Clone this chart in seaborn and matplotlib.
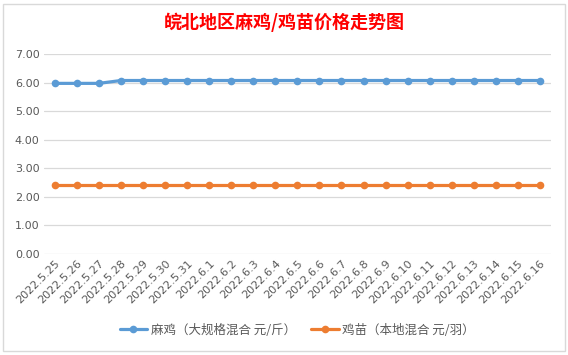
import matplotlib
matplotlib.use("Agg")
import matplotlib.pyplot as plt
import seaborn as sns
import pandas as pd

# data
dates = ["2022.5.25", "2022.5.26", "2022.5.27", "2022.5.28", "2022.5.29", "2022.5.30",
         "2022.5.31", "2022.6.1", "2022.6.2", "2022.6.3", "2022.6.4", "2022.6.5",
         "2022.6.6", "2022.6.7", "2022.6.8", "2022.6.9", "2022.6.10", "2022.6.11",
         "2022.6.12", "2022.6.13", "2022.6.14", "2022.6.15", "2022.6.16"]
maji = [5.97, 5.97, 5.97] + [6.07] * 20
jimiao = [2.40] * 23
series_names = ["麻鸡（大规格混合 元/斤）", "鸡苗（本地混合 元/羽）"]
colors = ["#5B9BD5", "#ED7D31"]

df = pd.DataFrame({
    "date": dates * 2,
    "price": maji + jimiao,
    "series": [series_names[0]] * len(dates) + [series_names[1]] * len(dates),
})
df["pos"] = list(range(len(dates))) * 2

sns.set_style("white")
plt.rcParams["font.family"] = ["Noto Sans CJK SC", "DejaVu Sans"]

fig = plt.figure(figsize=(5.68, 3.55), dpi=100)
ax = fig.add_axes([0.077, 0.285, 0.893, 0.563])

sns.lineplot(data=df, x="pos", y="price", hue="series", palette=colors,
             marker="o", markersize=5.5, markeredgewidth=0, linewidth=2.3,
             sort=False, ax=ax)

ax.set_ylim(0, 7)
ax.set_yticks([0, 1, 2, 3, 4, 5, 6, 7])
ax.set_yticklabels([f"{v:.2f}" for v in range(8)], fontsize=8, color="#595959",
                   family="DejaVu Sans")
ax.set_xlim(-0.5, len(dates) - 0.5)
ax.set_xticks(range(len(dates)))
ax.set_xticklabels(dates, rotation=45, ha="right", rotation_mode="anchor",
                   fontsize=8, color="#595959", family="DejaVu Sans")
ax.grid(axis="y", color="#D9D9D9", linewidth=0.9)
ax.tick_params(length=0, pad=3)
for s in ax.spines.values():
    s.set_visible(False)
ax.set_xlabel("")
ax.set_ylabel("")

fig.suptitle("皖北地区麻鸡/鸡苗价格走势图", color="red", fontsize=13,
             fontweight="bold", y=0.965)

ax.legend(handles=ax.get_legend_handles_labels()[0], labels=series_names,
          loc="lower center", bbox_to_anchor=(0.5, -0.47), ncol=2, frameon=False,
          fontsize=9, labelcolor="#595959", handlelength=2.2, columnspacing=1.2,
          handletextpad=0.3)

# thin chart-area border like the spreadsheet chart
fig.patches.append(plt.Rectangle((0.005, 0.01), 0.99, 0.98, transform=fig.transFigure,
                                 fill=False, edgecolor="#D9D9D9", linewidth=1))

fig.savefig("out.png", dpi=100)
